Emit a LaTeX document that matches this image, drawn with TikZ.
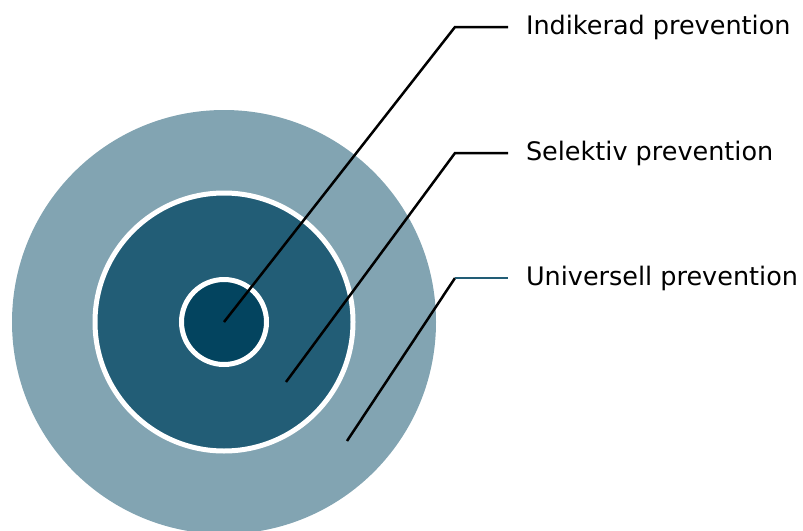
\documentclass[tikz,border=0pt]{standalone}
\usepackage{fontspec}
\setmainfont{DejaVu Sans}
\begin{document}
\begin{tikzpicture}[x=1pt,y=-1pt,
  ring/.style={draw=white, line width=5pt},
  leader/.style={draw=black, line width=2.5pt},
  label/.style={anchor=west, inner xsep=18pt, inner ysep=0pt, outer sep=0pt, font=\fontsize{25.5}{30}\selectfont}]
\definecolor{ringuniversell}{HTML}{82A4B2}
\definecolor{ringselektiv}{HTML}{225D76}
\definecolor{ringindikerad}{HTML}{03445F}
\useasboundingbox (0,0) rectangle (803,530);
\begin{scope}
\clip (0,0) rectangle (803,530);
\fill[ringuniversell] (224,322) circle[radius=212pt];
\end{scope}
\filldraw[ringselektiv, ring] (224,322) circle[radius=129pt];
\filldraw[ringindikerad, ring] (224,322) circle[radius=42.5pt];
% labels
\node[label] (indikerad) at (508,27) {Indikerad prevention};
\node[label] (selektiv) at (508,153) {Selektiv prevention};
\node[label] (universell) at (508,278) {Universell prevention};
% leader lines
\coordinate (pindikerad) at (224,322);
\coordinate (pselektiv) at (286,382);
\coordinate (puniversell) at (347,441);
\coordinate (kindikerad) at (455,27);
\coordinate (kselektiv) at (455,153);
\coordinate (kuniversell) at (455,278);
\draw[leader] (pindikerad) -- (kindikerad) -- (indikerad.west);
\draw[leader] (pselektiv) -- (kselektiv) -- (selektiv.west);
\draw[leader] (puniversell) -- (kuniversell);
\draw[leader, draw=ringselektiv] (kuniversell) -- (universell.west);
\end{tikzpicture}
\end{document}
